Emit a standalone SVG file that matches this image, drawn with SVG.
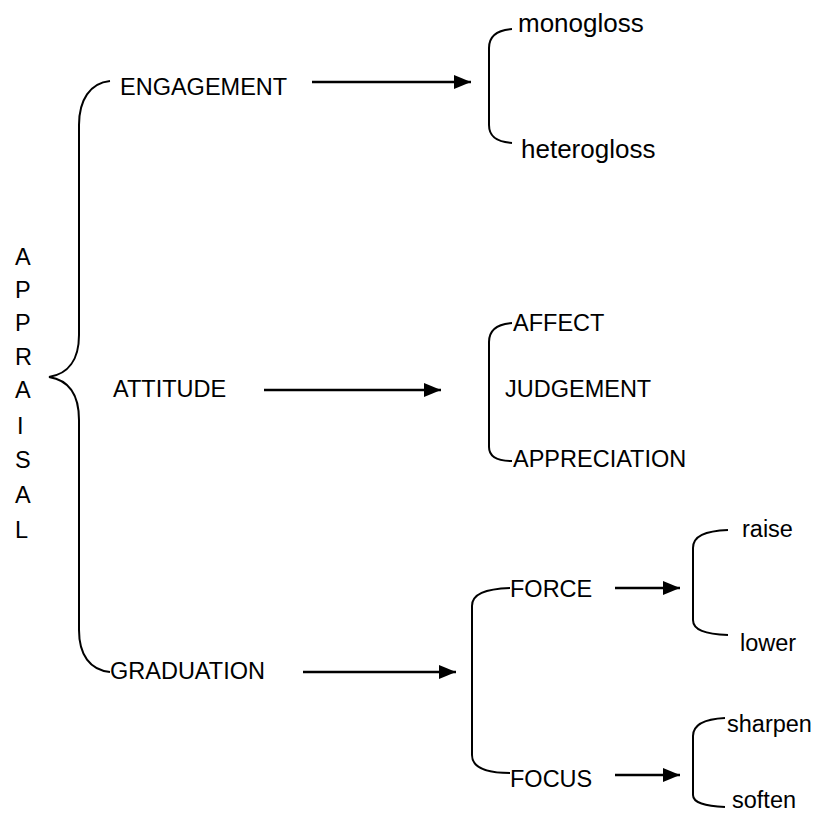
<svg xmlns="http://www.w3.org/2000/svg" width="813" height="816" viewBox="0 0 813 816">
<defs>
<style>
text{font-family:"Liberation Sans",Arial,sans-serif;font-size:23.5px;fill:#000}
text.big{font-size:26px}
.br{fill:none;stroke:#000;stroke-width:2}
.ar{fill:none;stroke:#000;stroke-width:2.5}
</style>
<marker id="ah" markerWidth="17" markerHeight="14" refX="17" refY="7" orient="auto" markerUnits="userSpaceOnUse">
<path d="M0,0 L17,7 L0,14 Z" fill="#000"/>
</marker>
</defs>
<rect width="813" height="816" fill="#fff"/>
<g id="appraisal">
<text x="15" y="265">A</text>
<text x="15" y="298">P</text>
<text x="15" y="331">P</text>
<text x="15" y="365">R</text>
<text x="15" y="398">A</text>
<text x="17" y="434">I</text>
<text x="15" y="468">S</text>
<text x="15" y="503">A</text>
<text x="15" y="538">L</text>
<path class="br" d="M110,81 C90,83 79,100 79,125 L79,335 C79,360 68,374 49,377 C68,380 79,394 79,420 L79,630 C79,655 90,670 110,672"/>
</g>
<g id="engagement">
<text x="120" y="95">ENGAGEMENT</text>
</g>
<g id="attitude">
<text x="113" y="397">ATTITUDE</text>
</g>
<g id="graduation">
<text x="110" y="679">GRADUATION</text>
</g>
<g id="gloss">
<path class="br" d="M512,29 C497,30 489,36 489,48 L489,125 C489,137 497,142 512,143"/>
<text class="big" x="518" y="32">monogloss</text>
<text class="big" x="521" y="158">heterogloss</text>
</g>
<g id="attitude-types">
<path class="br" d="M512,323 C497,324 489,330 489,342 L489,447 C489,457 497,461 512,461"/>
<text x="513" y="331">AFFECT</text>
<text x="505" y="397">JUDGEMENT</text>
<text x="513" y="467">APPRECIATION</text>
</g>
<g id="graduation-types">
<path class="br" d="M510,588 C485,589 472,594 472,606 L472,755 C472,767 485,773 510,773"/>
<text x="510" y="597">FORCE</text>
<text x="510" y="787">FOCUS</text>
</g>
<g id="force-types">
<path class="br" d="M728,530 C705,531 693,536 693,548 L693,620 C693,630 705,634 728,635"/>
<text x="742" y="537">raise</text>
<text x="740" y="651">lower</text>
</g>
<g id="focus-types">
<path class="br" d="M725,718 C705,719 693,724 693,736 L693,795 C693,803 705,806 725,807"/>
<text x="727" y="732">sharpen</text>
<text x="732" y="808">soften</text>
</g>
<g id="connectors">
<path class="ar" d="M312,82 L471,82" marker-end="url(#ah)"/>
<path class="ar" d="M264,390 L441,390" marker-end="url(#ah)"/>
<path class="ar" d="M303,672 L456,672" marker-end="url(#ah)"/>
<path class="ar" d="M615,588 L680,588" marker-end="url(#ah)"/>
<path class="ar" d="M615,775 L680,775" marker-end="url(#ah)"/>
</g>
</svg>
